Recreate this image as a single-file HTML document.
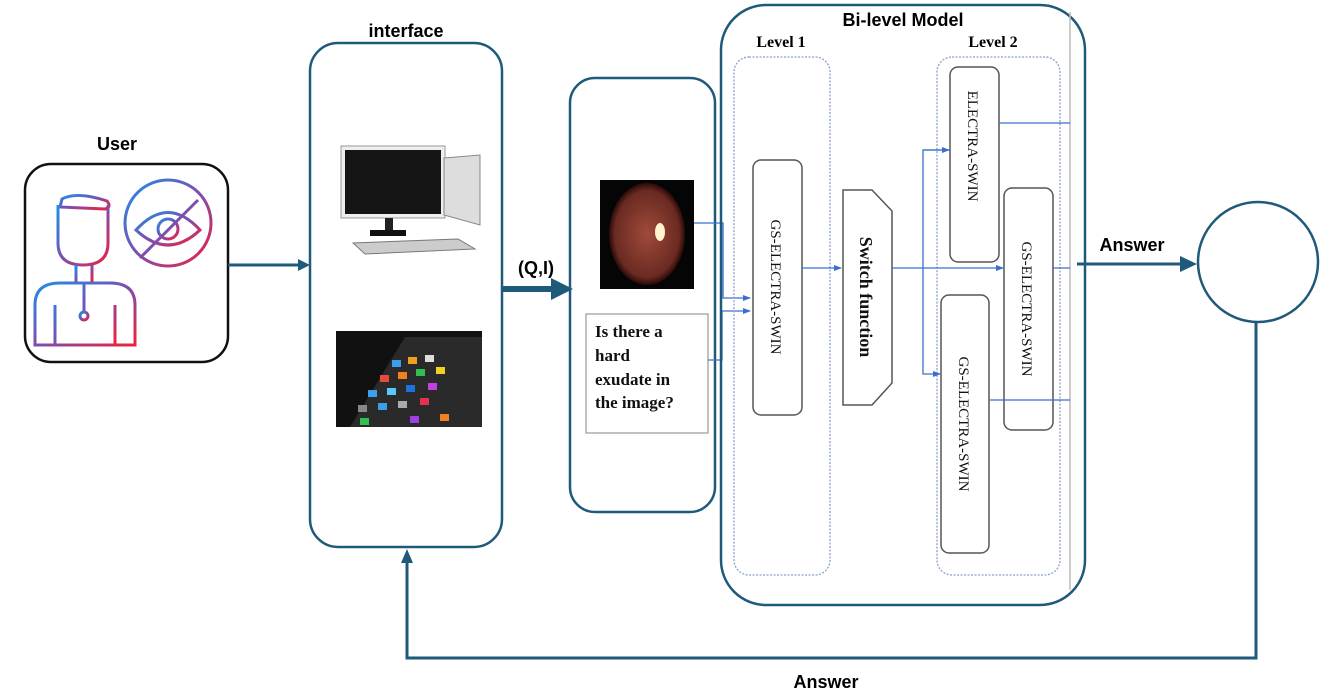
<!DOCTYPE html>
<html><head><meta charset="utf-8"><style>
html,body{margin:0;padding:0;background:#fff;}
svg{display:block;}
.s{font-family:"Liberation Sans",sans-serif;font-weight:bold;}
.r{font-family:"Liberation Serif",serif;}
</style></head><body>
<svg width="1325" height="696" viewBox="0 0 1325 696" xmlns="http://www.w3.org/2000/svg">
<defs>
<linearGradient id="g" x1="0" y1="0" x2="1" y2="1"><stop offset="0" stop-color="#1e8fe8"/><stop offset="0.5" stop-color="#7b4fb0"/><stop offset="1" stop-color="#f0203c"/></linearGradient>
<marker id="ab" markerWidth="8" markerHeight="8" refX="7" refY="4" orient="auto" markerUnits="userSpaceOnUse"><path d="M0,1 L8,4 L0,7z" fill="#3a6fd0"/></marker>
<radialGradient id="eye" cx="0.5" cy="0.5" r="0.5"><stop offset="0" stop-color="#a04a3a"/><stop offset="0.85" stop-color="#6a2a22"/><stop offset="1" stop-color="#2a0a08"/></radialGradient>
</defs>
<!-- User -->
<text x="117" y="150" class="s" font-size="18" text-anchor="middle">User</text>
<rect x="25" y="164" width="203" height="198" rx="26" fill="#fff" stroke="#111" stroke-width="2.5"/>
<g fill="none" stroke="url(#g)" stroke-width="3">
<path d="M62,199 q15,-8 45,2 q5,6 -2,8 l-45,-2z"/>
<path d="M58,205 v38 q0,22 25,22 q25,0 25,-22 v-38"/>
<path d="M76,265 v18 M92,265 v18"/>
<path d="M35,345 v-40 q0,-22 25,-22 h50 q25,0 25,22 v40z"/>
<path d="M55,305 v40 M115,305 v40 M84,283 v30"/>
<circle cx="84" cy="316" r="4"/>
<circle cx="168" cy="223" r="43"/>
<path d="M136,230 q32,-35 64,0 q-32,30 -64,0z"/>
<circle cx="168" cy="229" r="10"/>
<path d="M140,258 l58,-58"/>
</g>
<line x1="228" y1="265" x2="300" y2="265" stroke="#1f5a7a" stroke-width="3"/>
<path d="M298,259 L310,265 L298,271z" fill="#1f5a7a"/>
<!-- interface -->
<text x="406" y="37" class="s" font-size="18" text-anchor="middle">interface</text>
<rect x="310" y="43" width="192" height="504" rx="28" fill="none" stroke="#1f5a7a" stroke-width="2.5"/>
<!-- computer -->
<rect x="341" y="146" width="104" height="72" fill="#eee" stroke="#999"/>
<rect x="345" y="150" width="96" height="64" fill="#151515"/>
<rect x="385" y="218" width="8" height="14" fill="#222"/>
<rect x="370" y="230" width="36" height="6" fill="#111"/>
<path d="M444,158 l36,-3 v70 l-36,-10z" fill="#ddd" stroke="#888"/>
<path d="M353,243 l105,-4 l17,10 l-110,5z" fill="#ccc" stroke="#777"/>
<!-- phone -->
<rect x="336" y="331" width="146" height="96" fill="#111"/>
<path d="M350,427 l55,-90 h77 v90z" fill="#2a2a2a"/>
<g>
<rect x="392" y="360" width="9" height="7" fill="#3a9ee8"/><rect x="408" y="357" width="9" height="7" fill="#f0a020"/><rect x="425" y="355" width="9" height="7" fill="#ddd"/>
<rect x="380" y="375" width="9" height="7" fill="#e84a3a"/><rect x="398" y="372" width="9" height="7" fill="#f08020"/><rect x="416" y="369" width="9" height="7" fill="#30c050"/><rect x="436" y="367" width="9" height="7" fill="#f0d020"/>
<rect x="368" y="390" width="9" height="7" fill="#3aa0f0"/><rect x="387" y="388" width="9" height="7" fill="#5ac8fa"/><rect x="406" y="385" width="9" height="7" fill="#2070e0"/><rect x="428" y="383" width="9" height="7" fill="#c040e0"/>
<rect x="358" y="405" width="9" height="7" fill="#888"/><rect x="378" y="403" width="9" height="7" fill="#3a9ee8"/><rect x="398" y="401" width="9" height="7" fill="#aaa"/><rect x="420" y="398" width="9" height="7" fill="#e83050"/>
<rect x="360" y="418" width="9" height="7" fill="#30c050"/><rect x="410" y="416" width="9" height="7" fill="#a040e0"/><rect x="440" y="414" width="9" height="7" fill="#f08020"/>
</g>
<!-- (Q,I) -->
<text x="536" y="274" class="s" font-size="18" text-anchor="middle">(Q,I)</text>
<line x1="502" y1="289" x2="555" y2="289" stroke="#1f5a7a" stroke-width="6"/>
<path d="M551,278 L573,289 L551,300z" fill="#1f5a7a"/>
<!-- input box -->
<rect x="570" y="78" width="145" height="434" rx="25" fill="none" stroke="#1f5a7a" stroke-width="2.5"/>
<rect x="600" y="180" width="94" height="109" fill="#050505"/>
<ellipse cx="647" cy="234" rx="38" ry="51" fill="url(#eye)"/>
<ellipse cx="660" cy="232" rx="5" ry="9" fill="#fff3d0"/>
<rect x="586" y="314" width="122" height="119" fill="#fff" stroke="#999" stroke-width="1.2"/>
<text class="r" font-size="17" font-weight="bold" fill="#111"><tspan x="595" y="337">Is there a</tspan><tspan x="595" y="361">hard</tspan><tspan x="595" y="385">exudate in</tspan><tspan x="595" y="408">the image?</tspan></text>
<!-- connectors into level 1 -->
<g fill="none" stroke="#3a6fd0" stroke-width="1.3">
<path d="M694,223 H723 V298 H750" marker-end="url(#ab)"/>
<path d="M708,360 H722 V311 H750" marker-end="url(#ab)"/>
</g>
<!-- Bi-level -->
<rect x="721" y="5" width="364" height="600" rx="45" fill="none" stroke="#1f5a7a" stroke-width="2.5"/>
<line x1="1070" y1="12" x2="1070" y2="590" stroke="#bbb" stroke-width="1.5"/>
<text x="903" y="26" class="s" font-size="18" text-anchor="middle">Bi-level Model</text>
<text x="781" y="47" class="r" font-size="16" font-weight="bold" text-anchor="middle">Level 1</text>
<text x="993" y="47" class="r" font-size="16" font-weight="bold" text-anchor="middle">Level 2</text>
<rect x="734" y="57" width="96" height="518" rx="15" fill="none" stroke="#8a9ed0" stroke-width="1.3" stroke-dasharray="2,1.5"/>
<rect x="937" y="57" width="123" height="518" rx="15" fill="none" stroke="#8a9ed0" stroke-width="1.3" stroke-dasharray="2,1.5"/>
<g fill="#fff" stroke="#555" stroke-width="1.5">
<rect x="753" y="160" width="49" height="255" rx="8"/>
<rect x="950" y="67" width="49" height="195" rx="8"/>
<rect x="1004" y="188" width="49" height="242" rx="8"/>
<rect x="941" y="295" width="48" height="258" rx="8"/>
<path d="M843,190 H872 L892,211 V383 L872,405 H843z"/>
</g>
<g class="r" font-size="15" fill="#111">
<text transform="translate(771,287) rotate(90)" text-anchor="middle">GS-ELECTRA-SWIN</text>
<text transform="translate(968,146) rotate(90)" text-anchor="middle">ELECTRA-SWIN</text>
<text transform="translate(1022,309) rotate(90)" text-anchor="middle">GS-ELECTRA-SWIN</text>
<text transform="translate(959,424) rotate(90)" text-anchor="middle">GS-ELECTRA-SWIN</text>
<text transform="translate(860,297) rotate(90)" text-anchor="middle" font-weight="bold" font-size="18">Switch function</text>
</g>
<g fill="none" stroke="#3a6fd0" stroke-width="1.3">
<path d="M802,268 H841" marker-end="url(#ab)"/>
<path d="M892,268 H1003" marker-end="url(#ab)"/>
<path d="M950,150 H923 V374 H940" marker-end="url(#ab)"/>
<path d="M923,150 H949" marker-end="url(#ab)"/>
<path d="M999,123 H1070 M1053,268 H1070 M989,400 H1070"/>
</g>
<!-- Answer -->
<text x="1132" y="251" class="s" font-size="18" text-anchor="middle">Answer</text>
<line x1="1077" y1="264" x2="1182" y2="264" stroke="#1f5a7a" stroke-width="3"/>
<path d="M1180,256 L1197,264 L1180,272z" fill="#1f5a7a"/>
<circle cx="1258" cy="262" r="60" fill="none" stroke="#1f5a7a" stroke-width="2.5"/>
<path d="M1256,322 V658 H407 V562" fill="none" stroke="#1f5a7a" stroke-width="3"/>
<path d="M401,563 L407,549 L413,563z" fill="#1f5a7a"/>
<text x="826" y="688" class="s" font-size="18" text-anchor="middle">Answer</text>
</svg>
</body></html>
